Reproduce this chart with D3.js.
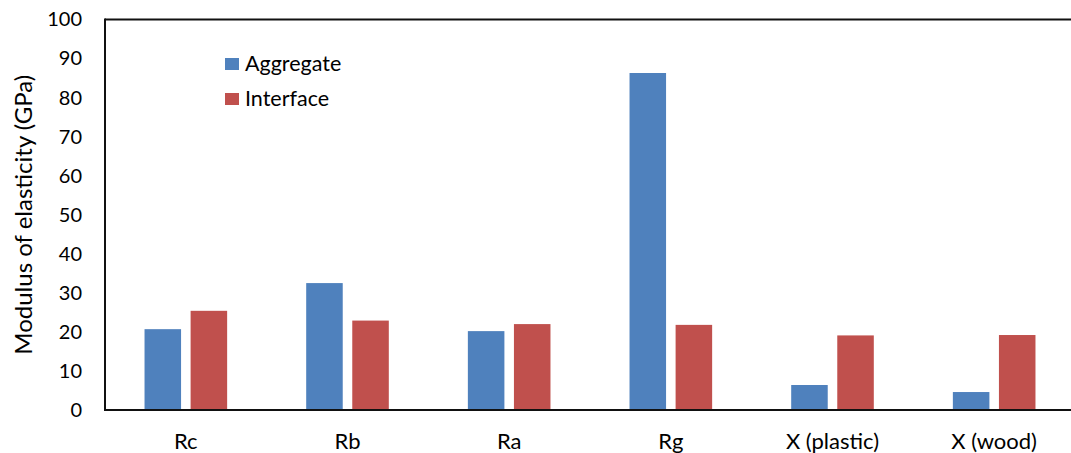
<!DOCTYPE html>
<html>
<head>
<meta charset="utf-8">
<script src="https://cdn.jsdelivr.net/npm/d3@7"></script>
<style>
  html, body { margin: 0; padding: 0; background: #fff; }
  svg { display: block; font-family: Lato, "Open Sans", sans-serif; }
</style>
</head>
<body>
<svg id="chart" width="1071" height="453"></svg>
<script>
// Modulus of elasticity per material, aggregate vs. interface (GPa)
const categories = ["Rc", "Rb", "Ra", "Rg", "X (plastic)", "X (wood)"];
const seriesNames = ["Aggregate", "Interface"];
const aggregate = [20.7, 32.5, 20.2, 86.3, 6.4, 4.6];
const interfaceVals = [25.4, 22.9, 22.0, 21.8, 19.1, 19.2];
const yTicks = [0, 10, 20, 30, 40, 50, 60, 70, 80, 90, 100];
const colors = ["#4f81bd", "#c0504d"];

const svg = d3.select("#chart");
const margin = { left: 105, top: 19.5, bottom: 410 };
const plotRight = 1075;

const x = d3.scaleBand().domain(categories).range([margin.left, plotRight]).paddingInner(0).paddingOuter(0);
const bw = x.bandwidth();
const barW = bw * 0.226;
const barGap = bw * 0.059;
const y = d3.scaleLinear().domain([0, 100]).range([margin.bottom, margin.top]);

const rows = categories.map((c, i) => ({ c, vals: [aggregate[i], interfaceVals[i]] }));

// bars
const groups = svg.append("g").selectAll("g").data(rows).join("g");
groups.selectAll("rect")
  .data(d => d.vals.map((v, k) => ({ c: d.c, v, k })))
  .join("rect")
  .attr("x", d => x(d.c) + bw / 2 - barW - barGap / 2 + d.k * (barW + barGap))
  .attr("y", d => y(d.v))
  .attr("width", barW)
  .attr("height", d => y(0) - y(d.v))
  .attr("fill", d => colors[d.k]);

// frame: left, top, bottom
const frame = svg.append("g").attr("stroke", "#111").attr("stroke-width", 2).attr("fill", "none");
frame.append("line").attr("x1", margin.left).attr("x2", margin.left).attr("y1", y(100) - 1).attr("y2", y(0) + 1);
frame.append("line").attr("x1", margin.left).attr("x2", plotRight).attr("y1", y(100)).attr("y2", y(100));
frame.append("line").attr("x1", margin.left).attr("x2", plotRight).attr("y1", y(0)).attr("y2", y(0));

// y axis labels
const yAxis = d3.axisLeft(y).tickValues(yTicks).tickSize(0).tickPadding(23);
const yg = svg.append("g").attr("transform", `translate(${margin.left},0)`).call(yAxis);
yg.select(".domain").remove();
yg.selectAll("text").attr("font-size", 20).attr("fill", "#000").style("font-family", "Lato, sans-serif");

// x axis labels
const xAxis = d3.axisBottom(x).tickSize(0).tickPadding(23);
const xg = svg.append("g").attr("transform", `translate(0,${margin.bottom})`).call(xAxis);
xg.select(".domain").remove();
xg.selectAll("text").attr("font-size", 22).attr("fill", "#000").style("font-family", "Lato, sans-serif");

// y axis title
svg.append("text")
  .attr("transform", `translate(32,${(margin.top + margin.bottom) / 2}) rotate(-90)`)
  .attr("text-anchor", "middle")
  .attr("font-size", 24)
  .attr("fill", "#000")
  .text("Modulus of elasticity (GPa)");

// legend
const legend = svg.append("g").attr("transform", "translate(225,58)");
seriesNames.forEach((name, i) => {
  const g = legend.append("g").attr("transform", `translate(0,${i * 35})`);
  g.append("rect").attr("width", 14).attr("height", 12).attr("fill", colors[i]);
  g.append("text").attr("x", 20).attr("y", 13).attr("font-size", 21.5).attr("fill", "#000").text(name);
});
</script>
</body>
</html>
